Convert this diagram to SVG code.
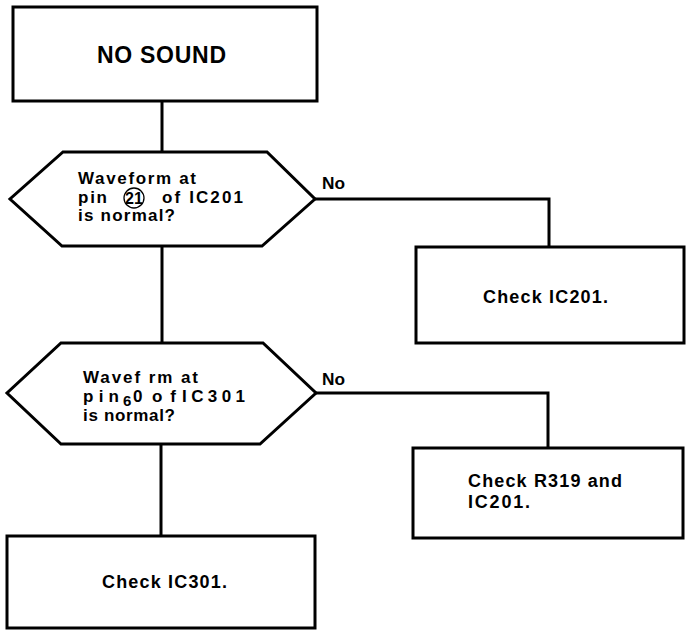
<svg xmlns="http://www.w3.org/2000/svg" width="688" height="633" viewBox="0 0 688 633">
<style>
.box{fill:#fff;stroke:#000;stroke-width:3}
.ln{fill:none;stroke:#000;stroke-width:3}
.t{font-family:"Liberation Sans",Arial,sans-serif;font-weight:bold;fill:#000}
.h{font-size:17px}
.b{font-size:18px}
</style>
<rect width="688" height="633" fill="#fff"/>
<g id="connectors">
<path class="ln" d="M162,101 V152"/>
<path class="ln" d="M162,246 V343"/>
<path class="ln" d="M161,444 V536"/>
<path class="ln" d="M315,199 H549 V247"/>
<path class="ln" d="M316,393 H548 V448"/>
<text class="t" x="322" y="189" font-size="16" textLength="23" lengthAdjust="spacingAndGlyphs">No</text>
<text class="t" x="322" y="385" font-size="16" textLength="23" lengthAdjust="spacingAndGlyphs">No</text>
</g>
<g id="start">
<rect class="box" x="13" y="7" width="304" height="94"/>
<text class="t" x="97" y="63" font-size="23" textLength="129" lengthAdjust="spacing">NO SOUND</text>
</g>
<g id="decision1">
<polygon class="box" points="63,152 267,152 315,199 262,246 62,246 10,199"/>
<text class="t h" x="78" y="184" textLength="118" lengthAdjust="spacing">Waveform at</text>
<text class="t h" x="78" y="203" textLength="29" lengthAdjust="spacing">pin</text>
<circle cx="134" cy="198" r="10" fill="none" stroke="#000" stroke-width="1.3"/>
<text class="t" x="134" y="204" font-size="16" text-anchor="middle">21</text>
<text class="t h" x="162" y="203" textLength="81" lengthAdjust="spacing">of IC201</text>
<text class="t h" x="78" y="221" textLength="97" lengthAdjust="spacing">is normal?</text>
</g>
<g id="check-ic201">
<rect class="box" x="416" y="247" width="268" height="96"/>
<text class="t b" x="483" y="303" textLength="125" lengthAdjust="spacing">Check IC201.</text>
</g>
<g id="decision2">
<polygon class="box" points="61,343 263,343 316,393 260,444 61,444 7,393"/>
<text class="t h" x="83" y="383" textLength="115" lengthAdjust="spacing">Wavef rm at</text>
<text class="t h" x="83" y="402" textLength="36" lengthAdjust="spacing">pin</text>
<text class="t" x="123" y="406" font-size="15">6</text>
<text class="t h" x="133" y="402">0</text>
<text class="t h" x="152" y="402" textLength="24" lengthAdjust="spacing">of</text>
<text class="t h" x="182" y="402" textLength="63" lengthAdjust="spacing">IC301</text>
<text class="t h" x="83" y="421" textLength="92" lengthAdjust="spacing">is normal?</text>
</g>
<g id="check-r319">
<rect class="box" x="413" y="448" width="270" height="90"/>
<text class="t b" x="468" y="487" textLength="154" lengthAdjust="spacing">Check R319 and</text>
<text class="t b" x="468" y="508" textLength="62" lengthAdjust="spacing">IC201.</text>
</g>
<g id="check-ic301">
<rect class="box" x="7" y="536" width="308" height="92"/>
<text class="t b" x="102" y="588" textLength="125" lengthAdjust="spacing">Check IC301.</text>
</g>
</svg>
